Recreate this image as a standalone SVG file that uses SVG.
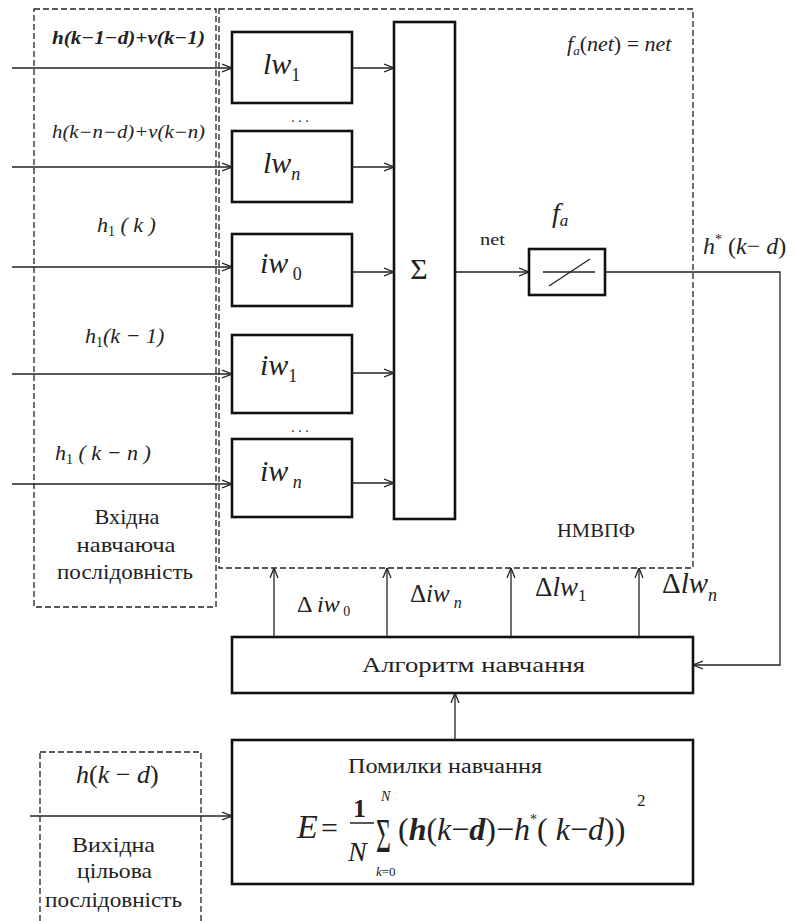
<svg xmlns="http://www.w3.org/2000/svg" width="796" height="921" viewBox="0 0 796 921">
<style>
.box{fill:#fff;stroke:#111;stroke-width:2.6}
.dash{fill:none;stroke:#222;stroke-width:1.3;stroke-dasharray:6,3}
.ln{fill:none;stroke:#222;stroke-width:1.3}
.m{font-family:"Liberation Serif","Times New Roman",serif;font-style:italic;fill:#222}
.t{font-family:"Liberation Serif","Times New Roman",serif;fill:#222}
</style>
<defs>
<marker id="a" viewBox="0 0 10 10" refX="10" refY="5" markerWidth="10" markerHeight="10" markerUnits="userSpaceOnUse" orient="auto">
<path d="M0,1 L10,5 L0,9" fill="none" stroke="#222" stroke-width="1.3"/>
</marker>
</defs>
<rect width="796" height="921" fill="#fff"/>

<g id="input-seq">
<rect class="dash" x="34" y="9" width="182" height="598"/>
<text class="m" x="52" y="44" font-size="19" font-weight="bold" textLength="153" lengthAdjust="spacingAndGlyphs">h(k−1−d)+v(k−1)</text>
<text class="m" x="52" y="138" font-size="18" textLength="153" lengthAdjust="spacingAndGlyphs">h(k−n−d)+v(k−n)</text>
<text class="m" x="97" y="232" font-size="22">h<tspan font-size="14" dy="4" font-style="normal">1</tspan><tspan dy="-4"> ( k )</tspan></text>
<text class="m" x="85" y="343" font-size="22">h<tspan font-size="14" dy="4" font-style="normal">1</tspan><tspan dy="-4">(k − 1)</tspan></text>
<text class="m" x="55" y="460" font-size="22">h<tspan font-size="14" dy="4" font-style="normal">1</tspan><tspan dy="-4"> ( k  −  n )</tspan></text>
<text class="t" x="127" y="524" font-size="22" text-anchor="middle" textLength="65" lengthAdjust="spacingAndGlyphs">Вхідна</text>
<text class="t" x="126" y="552" font-size="22" text-anchor="middle" textLength="99" lengthAdjust="spacingAndGlyphs">навчаюча</text>
<text class="t" x="125" y="579" font-size="22" text-anchor="middle" textLength="136" lengthAdjust="spacingAndGlyphs">послідовність</text>
</g>

<g id="nmvpf">
<rect class="dash" x="219" y="9" width="474" height="559"/>
<text class="m" x="567" y="51" font-size="22">f<tspan font-size="13" dy="4">a</tspan><tspan dy="-4" font-style="normal">(</tspan>net<tspan font-style="normal">) = </tspan>net</text>
<text class="t" x="557" y="537" font-size="18" textLength="78" lengthAdjust="spacingAndGlyphs">НМВПФ</text>
</g>

<g id="lw1"><rect class="box" x="232" y="32" width="120" height="71"/>
<text class="m" x="263" y="74" font-size="30">lw<tspan font-size="18" dy="7" font-style="normal">1</tspan></text></g>
<text class="t" x="300" y="122" font-size="14" text-anchor="middle">. . .</text>
<g id="lwn"><rect class="box" x="232" y="131" width="120" height="71"/>
<text class="m" x="263" y="173" font-size="30">lw<tspan font-size="18" dy="7">n</tspan></text></g>
<g id="iw0"><rect class="box" x="232" y="234" width="120" height="72"/>
<text class="m" x="260" y="273" font-size="30">iw<tspan font-size="18" dy="7" font-style="normal"> 0</tspan></text></g>
<g id="iw1"><rect class="box" x="232" y="335" width="120" height="78"/>
<text class="m" x="260" y="375" font-size="30">iw<tspan font-size="18" dy="7" font-style="normal">1</tspan></text></g>
<text class="t" x="300" y="432" font-size="14" text-anchor="middle">. . .</text>
<g id="iwn"><rect class="box" x="232" y="439" width="120" height="78"/>
<text class="m" x="260" y="481" font-size="30">iw<tspan font-size="18" dy="7"> n</tspan></text></g>

<g id="sum"><rect class="box" x="394" y="22" width="61" height="497"/>
<text class="t" x="419" y="279" font-size="30" text-anchor="middle">Σ</text></g>

<g id="fa"><rect class="box" x="529" y="249" width="76" height="46"/>
<line class="ln" x1="543" y1="272" x2="595" y2="272"/>
<line class="ln" x1="549" y1="286" x2="590" y2="259"/>
<text class="m" x="552" y="222" font-size="28">f<tspan font-size="17" dy="4">a</tspan></text></g>

<g id="algo"><rect class="box" x="232" y="637" width="461" height="56"/>
<text class="t" x="362" y="672" font-size="22" textLength="223" lengthAdjust="spacingAndGlyphs">Алгоритм навчання</text></g>

<g id="error"><rect class="box" x="232" y="740" width="461" height="144"/>
<text class="t" x="348" y="773" font-size="20" textLength="194" lengthAdjust="spacingAndGlyphs">Помилки навчання</text>
<text class="m" x="297" y="838" font-size="34">E</text>
<text class="t" x="321" y="838" font-size="30">=</text>
<text class="t" x="353" y="817" font-size="26" font-weight="bold">1</text>
<line x1="350" y1="823" x2="374" y2="823" stroke="#222" stroke-width="1.5"/>
<text class="m" x="348" y="861" font-size="28">N</text>
<text class="t" font-size="32" transform="translate(376,852) scale(0.8,1.5)">Σ</text>
<text class="m" x="381" y="801" font-size="14">N</text>
<text class="m" x="376" y="876" font-size="13">k<tspan font-style="normal">=0</tspan></text>
<text class="m" x="398" y="840" font-size="32"><tspan font-style="normal">(</tspan><tspan font-weight="bold">h</tspan><tspan font-style="normal">(</tspan>k<tspan font-style="normal">−</tspan><tspan font-weight="bold">d</tspan><tspan font-style="normal">)−</tspan>h<tspan font-size="14" dy="-16" font-style="normal">*</tspan><tspan dy="16" font-style="normal">(</tspan> k<tspan font-style="normal">−</tspan>d<tspan font-style="normal">))</tspan></text>
<text class="t" x="637" y="806" font-size="17">2</text></g>

<g id="output-seq">
<rect class="dash" x="40" y="752" width="161" height="180"/>
<text class="m" x="76" y="783" font-size="26">h<tspan font-style="normal">(</tspan>k <tspan font-style="normal">−</tspan> d<tspan font-style="normal">)</tspan></text>
<text class="t" x="72" y="852" font-size="22" textLength="83" lengthAdjust="spacingAndGlyphs">Вихідна</text>
<text class="t" x="77" y="878" font-size="22" textLength="75" lengthAdjust="spacingAndGlyphs">цільова</text>
<text class="t" x="45" y="907" font-size="22" textLength="137" lengthAdjust="spacingAndGlyphs">послідовність</text>
</g>

<g id="labels">
<text class="t" x="480" y="245" font-size="17" textLength="25" lengthAdjust="spacingAndGlyphs">net</text>
<text class="m" x="703" y="254" font-size="24">h<tspan font-size="14" dy="-10" font-style="normal">*</tspan><tspan dy="10" font-style="normal"> (</tspan>k<tspan font-style="normal">− </tspan>d<tspan font-style="normal">)</tspan></text>
<text class="m" x="297" y="612" font-size="24"><tspan font-style="normal">Δ </tspan>iw<tspan font-size="14" dy="4" font-style="normal"> 0</tspan></text>
<text class="m" x="410" y="602" font-size="25"><tspan font-style="normal">Δ</tspan>iw<tspan font-size="16" dy="6"> n</tspan></text>
<text class="m" x="535" y="596" font-size="27"><tspan font-style="normal">Δ</tspan>lw<tspan font-size="17" dy="5" font-style="normal">1</tspan></text>
<text class="m" x="662" y="593" font-size="29"><tspan font-style="normal">Δ</tspan>lw<tspan font-size="18" dy="8">n</tspan></text>
</g>

<g id="connectors">
<line class="ln" x1="12" y1="68" x2="232" y2="68" marker-end="url(#a)"/>
<line class="ln" x1="12" y1="167" x2="232" y2="167" marker-end="url(#a)"/>
<line class="ln" x1="12" y1="267" x2="232" y2="267" marker-end="url(#a)"/>
<line class="ln" x1="12" y1="374" x2="232" y2="374" marker-end="url(#a)"/>
<line class="ln" x1="12" y1="484" x2="232" y2="484" marker-end="url(#a)"/>
<line class="ln" x1="352" y1="68" x2="394" y2="68" marker-end="url(#a)"/>
<line class="ln" x1="352" y1="167" x2="394" y2="167" marker-end="url(#a)"/>
<line class="ln" x1="352" y1="272" x2="394" y2="272" marker-end="url(#a)"/>
<line class="ln" x1="352" y1="373" x2="394" y2="373" marker-end="url(#a)"/>
<line class="ln" x1="352" y1="483" x2="394" y2="483" marker-end="url(#a)"/>
<line class="ln" x1="455" y1="272" x2="529" y2="272" marker-end="url(#a)"/>
<polyline class="ln" points="605,272 780,272 780,665 693,665" marker-end="url(#a)"/>
<line class="ln" x1="274" y1="637" x2="274" y2="568" marker-end="url(#a)"/>
<line class="ln" x1="387" y1="637" x2="387" y2="568" marker-end="url(#a)"/>
<line class="ln" x1="511" y1="637" x2="511" y2="568" marker-end="url(#a)"/>
<line class="ln" x1="639" y1="637" x2="639" y2="568" marker-end="url(#a)"/>
<line class="ln" x1="455" y1="740" x2="455" y2="693" marker-end="url(#a)"/>
<line class="ln" x1="30" y1="816" x2="232" y2="816" marker-end="url(#a)"/>
</g>
</svg>
